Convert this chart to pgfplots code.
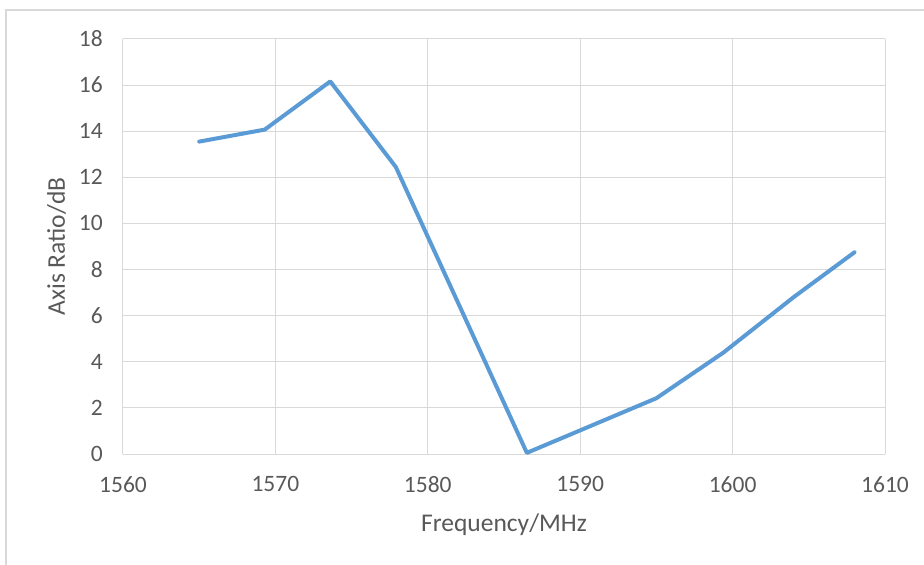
\documentclass[border=0pt]{standalone}
\usepackage{fontspec}
\setmainfont{Carlito}
\usepackage{pgfplots}
\pgfplotsset{compat=1.18}
\definecolor{linecol}{HTML}{5B9BD5}
\definecolor{gridcol}{HTML}{D9D9D9}
\definecolor{textcol}{HTML}{595959}
\begin{document}
\begin{tikzpicture}
% picture frame, 1pt = 1px of the reference
\useasboundingbox (-123pt,-111pt) rectangle (801pt,454pt);
\draw[gridcol, line width=1.5pt] (-117pt,-115pt) -- (-117pt,444pt) -- (805pt,444pt);
\begin{axis}[
  scale only axis,
  width=762pt, height=415pt,
  xmin=1560, xmax=1610, ymin=0, ymax=18,
  xtick={1560,1570,...,1610},
  ytick={0,2,...,18},
  grid=major,
  major grid style={draw=gridcol, line width=1pt},
  axis line style={draw=gridcol, line width=1pt},
  axis x line*=bottom,
  axis y line*=left,
  major tick length=0pt,
  tick label style={font=\fontsize{23.5}{28}\selectfont, text=textcol},
  /pgf/number format/assume math mode=true,
  /pgf/number format/1000 sep={},
  xticklabel style={inner sep=0pt, anchor=north, yshift=-22pt},
  yticklabel style={inner sep=0pt, anchor=east, xshift=-20pt},
  xlabel={Frequency/MHz},
  ylabel={Axis Ratio/dB},
  xlabel style={font=\fontsize{25.5}{30}\selectfont, text=textcol,
    at={(axis description cs:0.5,0)}, anchor=base, yshift=-77pt},
  ylabel style={font=\fontsize{25.5}{30}\selectfont, text=textcol,
    at={(axis description cs:0,0.5)}, anchor=base, yshift=58pt},
  clip=false,
]
\addplot[linecol, line width=4pt, line join=round, line cap=round] coordinates {
  (1565.0,13.55) (1569.3,14.07) (1573.6,16.16) (1577.9,12.45)
  (1586.5,0.05) (1595.0,2.42) (1599.4,4.4) (1604.0,6.8) (1608.0,8.75)
};
\end{axis}
\end{tikzpicture}
\end{document}
